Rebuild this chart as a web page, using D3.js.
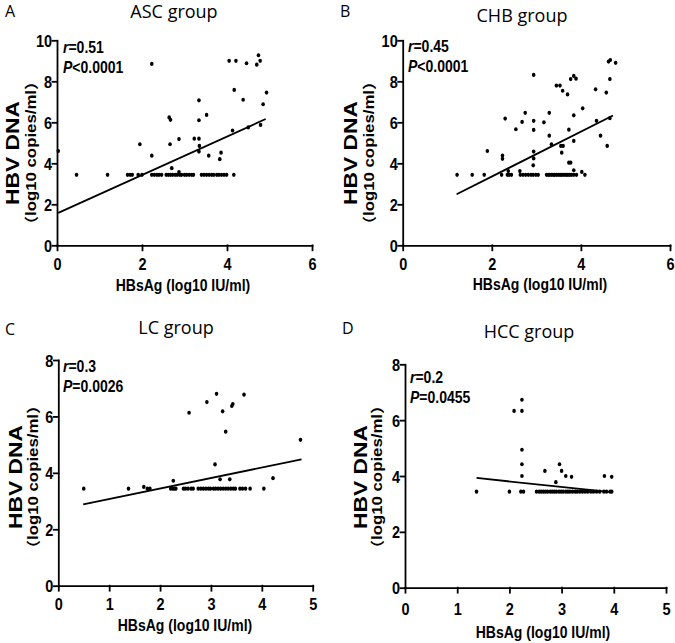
<!DOCTYPE html>
<html>
<head>
<meta charset="utf-8">
<script src="https://cdn.jsdelivr.net/npm/d3@7"></script>
<style>
  body { margin: 0; background: #fff; }
  svg { display: block; }
  .ax path, .ax line { stroke: #000; stroke-width: 1.8; stroke-linecap: square; }
  .bold { font-family: 'Liberation Sans', Arial, 'Noto Sans CJK SC', sans-serif; font-weight: bold; fill: #000; }
  .head { font-family: 'Open Sans', 'Noto Sans', sans-serif; fill: #000; }
</style>
</head>
<body>
<svg id="fig" width="675" height="643"></svg>
<script>
// undetectable HBV DNA is plotted at the assay's lower limit
const LIMIT_DNA = 3.44;

// A: ASC group
const ascHBsAg = [0.03, 2.23, 1.95, 2.23, 2.64, 2.67, 2.66, 2.70, 2.87, 2.87, 3.23, 3.34, 3.34, 3.34, 3.35, 3.34,
  3.52, 3.57, 3.86, 3.83, 4.05, 4.21, 4.13, 4.17, 4.46, 4.38, 4.50, 4.70, 4.74, 4.78, 4.79, 4.85, 4.93];
const ascDNA = [4.60, 8.85, 4.93, 4.37, 6.24, 6.12, 4.93, 3.76, 5.18, 3.57, 5.20, 7.07, 6.10, 5.20, 4.85, 4.57,
  6.36, 4.37, 4.52, 4.20, 9.00, 9.00, 5.60, 7.58, 8.88, 7.10, 5.75, 8.81, 9.27, 9.00, 5.87, 6.88, 7.45];
const ascLimitHBsAg = [0.46, 1.19, 1.66, 1.72, 1.77, 1.91, 2.00, 2.23, 2.29, 2.35, 2.40, 2.46, 2.57, 2.62, 2.67,
  2.72, 2.78, 2.83, 2.89, 2.93, 3.00, 3.05, 3.11, 3.17, 3.21, 3.40, 3.46, 3.52, 3.58, 3.64, 3.69, 3.76, 3.81,
  3.87, 3.93, 3.99, 4.16];
const ascFitX = [0.03, 4.91];
const ascFitY = [1.58, 6.16];

// B: CHB group
const chbHBsAg = [1.90, 2.24, 2.24, 2.30, 2.37, 2.54, 2.63, 2.68, 2.75, 2.94, 2.94, 2.94, 2.94, 2.94, 2.93, 3.17,
  3.29, 3.29, 3.34, 3.45, 3.53, 3.59, 3.55, 3.60, 3.57, 3.70, 3.73, 3.73, 3.77, 3.77, 3.84, 3.89, 3.84, 3.84,
  3.84, 4.02, 4.04, 4.33, 4.35, 4.44, 4.57, 4.59, 4.65, 4.65, 4.62, 4.66, 4.78];
const chbDNA = [4.60, 4.38, 4.22, 6.18, 3.62, 5.66, 3.62, 6.02, 6.46, 8.31, 6.07, 5.63, 4.57, 4.24, 3.90, 6.00,
  6.46, 5.35, 4.93, 7.79, 7.79, 7.54, 4.85, 4.85, 4.52, 7.36, 5.64, 4.03, 4.03, 8.11, 8.26, 8.13, 6.34, 5.09,
  3.66, 3.58, 6.68, 7.61, 6.07, 5.35, 7.45, 4.85, 8.11, 6.20, 8.96, 9.04, 8.90];
const chbLimitHBsAg = [1.22, 1.56, 1.83, 2.22, 2.35, 2.39, 2.44, 2.64, 2.70, 2.76, 2.82, 2.88, 2.93, 2.99, 3.04,
  3.23, 3.27, 3.30, 3.34, 3.38, 3.41, 3.45, 3.49, 3.53, 3.56, 3.60, 3.64, 3.68, 3.71, 3.75, 3.79, 3.84, 3.90, 4.09];
const chbFitX = [1.21, 4.72];
const chbFitY = [2.49, 6.33];

// C: LC group
const lcHBsAg = [1.68, 2.26, 2.57, 2.92, 3.11, 3.08, 3.23, 3.29, 3.18, 3.37, 3.41, 3.43, 3.65, 4.22, 4.76];
const lcDNA = [3.50, 3.72, 6.13, 6.51, 6.80, 4.30, 6.18, 5.46, 3.77, 3.77, 6.37, 6.44, 6.77, 3.81, 5.17];
const lcLimitHBsAg = [0.50, 1.38, 1.75, 1.80, 2.21, 2.25, 2.28, 2.31, 2.46, 2.50, 2.55, 2.61, 2.65, 2.75, 2.80,
  2.85, 2.90, 2.95, 2.99, 3.05, 3.09, 3.14, 3.19, 3.24, 3.29, 3.34, 3.39, 3.44, 3.48, 3.57, 3.62, 3.68, 3.77, 4.04];
const lcFitX = [0.49, 4.78];
const lcFitY = [2.88, 4.48];

// D: HCC group
const hccHBsAg = [2.24, 2.09, 2.24, 2.24, 2.24, 2.24, 2.68, 2.96, 3.00, 2.89, 3.08, 3.19, 3.82, 3.96];
const hccDNA = [6.73, 6.33, 6.33, 4.94, 4.42, 4.00, 4.18, 4.42, 4.18, 3.78, 4.00, 3.97, 4.00, 3.97];
const hccLimitHBsAg = [1.37, 2.00, 2.22, 2.27, 2.52, 2.57, 2.61, 2.65, 2.69, 2.73, 2.78, 2.82, 2.86, 2.90, 2.95,
  2.99, 3.03, 3.08, 3.12, 3.16, 3.21, 3.26, 3.30, 3.35, 3.40, 3.45, 3.50, 3.56, 3.61, 3.67, 3.73, 3.81, 3.86,
  3.93, 3.96];
const hccFitX = [1.37, 3.95];
const hccFitY = [3.93, 3.42];

const xTitle = 'HBsAg (log10 IU/ml)';
const yTitle1 = 'HBV DNA';
const yTitle2 = '（log10 copies/ml）';

// layout: box = [x at 0, x at max, y at max, y at 0]
const panels = [
  { letter: 'A', title: 'ASC group', r: '0.51', p: '<0.0001',
    xs: ascHBsAg, ys: ascDNA, lim: ascLimitHBsAg, fitX: ascFitX, fitY: ascFitY,
    xTicks: [0, 2, 4, 6], yTicks: [0, 2, 4, 6, 8, 10],
    box: [57, 312, 40.3, 245.3], letterAt: [5, 17], titleAt: [174, 18],
    yTitleX: [12, 31], yTitleMid: 153, xTitleAt: [183, 291], statAt: [63, 53], xGap: 24.5 },
  { letter: 'B', title: 'CHB group', r: '0.45', p: '<0.0001',
    xs: chbHBsAg, ys: chbDNA, lim: chbLimitHBsAg, fitX: chbFitX, fitY: chbFitY,
    xTicks: [0, 2, 4, 6], yTicks: [0, 2, 4, 6, 8, 10],
    box: [402.7, 670, 40.3, 245.3], letterAt: [340, 17], titleAt: [522, 22],
    yTitleX: [350, 369], yTitleMid: 153, xTitleAt: [540, 290], statAt: [408, 52], xGap: 24.5 },
  { letter: 'C', title: 'LC group', r: '0.3', p: '=0.0026',
    xs: lcHBsAg, ys: lcDNA, lim: lcLimitHBsAg, fitX: lcFitX, fitY: lcFitY,
    xTicks: [0, 1, 2, 3, 4, 5], yTicks: [0, 2, 4, 6, 8],
    box: [58.3, 312.7, 360, 585.7], letterAt: [5, 335], titleAt: [176, 334],
    yTitleX: [15, 33], yTitleMid: 477, xTitleAt: [185, 631], statAt: [63, 372], xGap: 24 },
  { letter: 'D', title: 'HCC group', r: '0.2', p: '=0.0455',
    xs: hccHBsAg, ys: hccDNA, lim: hccLimitHBsAg, fitX: hccFitX, fitY: hccFitY,
    xTicks: [0, 1, 2, 3, 4, 5], yTicks: [0, 2, 4, 6, 8],
    box: [405, 666, 364.3, 587.7], letterAt: [342, 334], titleAt: [529, 338],
    yTitleX: [360, 377], yTitleMid: 477, xTitleAt: [543, 638], statAt: [410, 383], xGap: 27 }
];

const svg = d3.select('#fig');
const SY = 1.2; // the figure is stretched vertically

function boldText(sel, size) {
  return sel.attr('class', 'bold')
    .style('font-family', "'Liberation Sans', Arial, 'Noto Sans CJK SC', sans-serif")
    .style('font-weight', 'bold').style('font-size', size + 'px').attr('fill', '#000');
}

panels.forEach(pn => {
  const [x0, x1, yTop, yBot] = pn.box;
  const x = d3.scaleLinear().domain([0, d3.max(pn.xTicks)]).range([x0, x1]);
  const y = d3.scaleLinear().domain([0, d3.max(pn.yTicks)]).range([yBot, yTop]);
  const g = svg.append('g');

  // headings
  g.append('text').attr('class', 'head').attr('font-size', 16)
    .attr('x', pn.letterAt[0]).attr('y', pn.letterAt[1]).text(pn.letter);
  g.append('text').attr('class', 'head').attr('font-size', 18).attr('text-anchor', 'middle')
    .attr('x', pn.titleAt[0]).attr('y', pn.titleAt[1]).text(pn.title);

  // axes
  const xa = g.append('g').attr('class', 'ax').attr('transform', `translate(0,${yBot})`)
    .call(d3.axisBottom(x).tickValues(pn.xTicks).tickSize(5).tickSizeOuter(0).tickFormat(d3.format('d')));
  boldText(xa.selectAll('text'), 14.5).attr('y', null).attr('dy', null)
    .attr('transform', `translate(0,${pn.xGap}) scale(1,${SY})`);
  const ya = g.append('g').attr('class', 'ax').attr('transform', `translate(${x0},0)`)
    .call(d3.axisLeft(y).tickValues(pn.yTicks).tickSize(4.5).tickSizeOuter(0).tickFormat(d3.format('d')));
  boldText(ya.selectAll('text'), 14.5).attr('x', null).attr('dy', null)
    .attr('transform', `translate(-5,6) scale(1,${SY})`);

  // axis titles
  boldText(g.append('text'), 14).attr('text-anchor', 'middle')
    .attr('transform', `translate(${pn.xTitleAt[0]},${pn.xTitleAt[1]}) scale(1,${SY})`).text(xTitle);
  boldText(g.append('text'), 19).attr('text-anchor', 'middle').attr('dy', '0.36em')
    .attr('transform', `translate(${pn.yTitleX[0]},${pn.yTitleMid}) scale(1,${SY}) rotate(-90)`).text(yTitle1);
  boldText(g.append('text'), 14).attr('text-anchor', 'middle').attr('dy', '0.33em')
    .attr('transform', `translate(${pn.yTitleX[1]},${pn.yTitleMid}) scale(1,${SY}) rotate(-90)`).text(yTitle2);

  // statistics
  const s1 = boldText(g.append('text'), 14)
    .attr('transform', `translate(${pn.statAt[0]},${pn.statAt[1]}) scale(1,${SY})`);
  s1.append('tspan').attr('font-style', 'italic').text('r');
  s1.append('tspan').text('=' + pn.r);
  const s2 = boldText(g.append('text'), 14)
    .attr('transform', `translate(${pn.statAt[0]},${pn.statAt[1] + 20}) scale(1,${SY})`);
  s2.append('tspan').attr('font-style', 'italic').text('P');
  s2.append('tspan').text(pn.p);

  // points
  const pts = pn.xs.map((v, i) => [v, pn.ys[i]]).concat(pn.lim.map(v => [v, LIMIT_DNA]));
  g.append('g').selectAll('ellipse').data(pts).join('ellipse')
    .attr('cx', d => x(d[0])).attr('cy', d => y(d[1]))
    .attr('rx', 1.8).attr('ry', 2.1).attr('fill', '#000');

  // regression line
  const fit = pn.fitX.map((v, i) => [v, pn.fitY[i]]);
  g.append('path').datum(fit)
    .attr('d', d3.line().x(d => x(d[0])).y(d => y(d[1])))
    .attr('fill', 'none').attr('stroke', '#000').attr('stroke-width', 1.8);
});
</script>
</body>
</html>
